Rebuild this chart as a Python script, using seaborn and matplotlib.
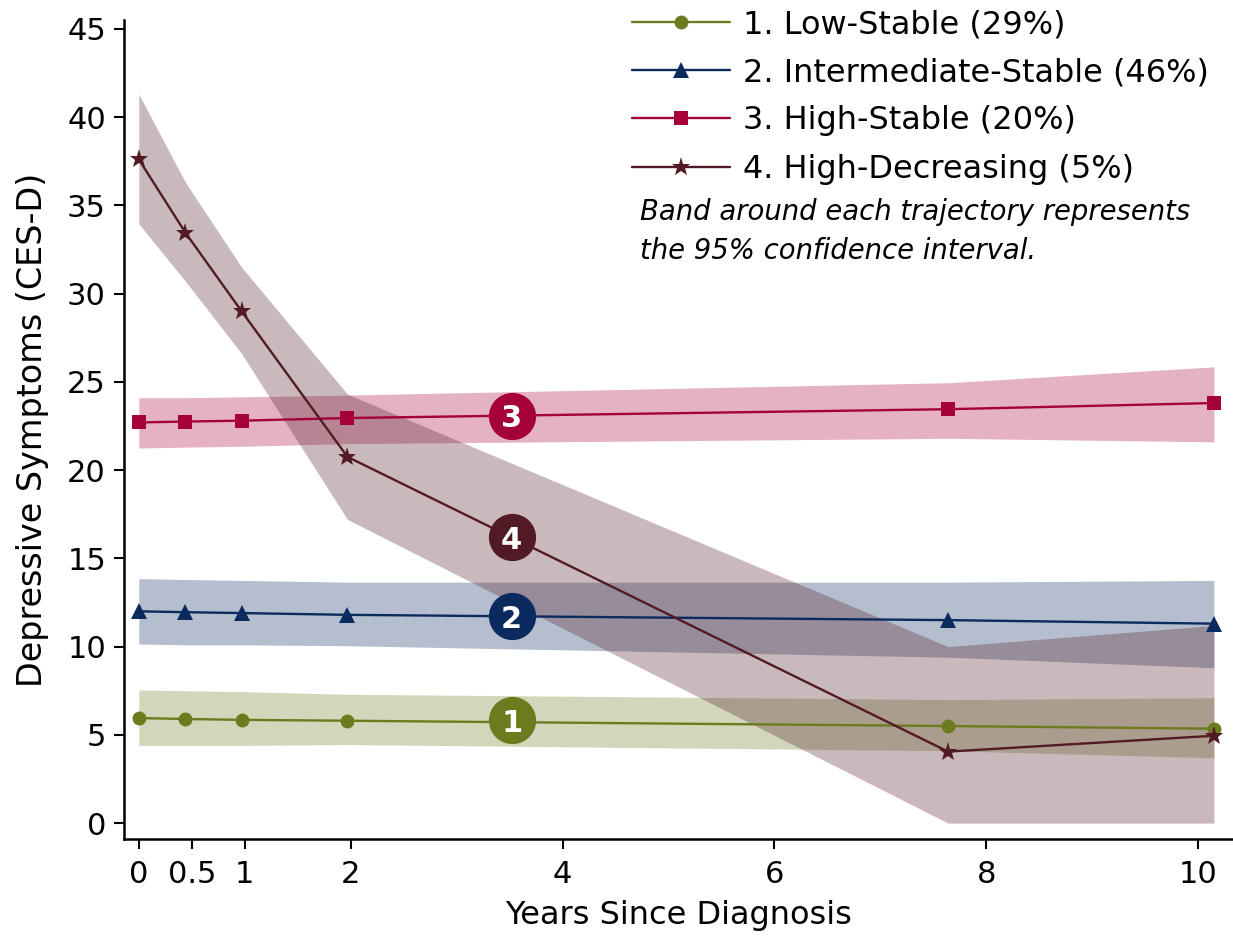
import matplotlib
matplotlib.use("Agg")
import matplotlib.pyplot as plt
import pandas as pd
import seaborn as sns

# --- data ---
years = [0, 0.44, 0.97, 1.97, 7.64, 10.15]

groups = ["1. Low-Stable (29%)", "2. Intermediate-Stable (46%)",
          "3. High-Stable (20%)", "4. High-Decreasing (5%)"]
short_names = ["1", "2", "3", "4"]

low_mean = [5.95, 5.9, 5.85, 5.8, 5.5, 5.35]
low_lo = [4.4, 4.4, 4.4, 4.45, 4.1, 3.7]
low_hi = [7.55, 7.5, 7.45, 7.3, 7.0, 7.1]

mid_mean = [12.0, 11.95, 11.9, 11.8, 11.5, 11.3]
mid_lo = [10.15, 10.1, 10.1, 10.05, 9.4, 8.8]
mid_hi = [13.85, 13.8, 13.75, 13.65, 13.65, 13.75]

high_mean = [22.7, 22.75, 22.8, 22.95, 23.45, 23.8]
high_lo = [21.25, 21.3, 21.35, 21.5, 21.8, 21.6]
high_hi = [24.1, 24.1, 24.15, 24.25, 24.95, 25.85]

dec_mean = [37.6, 33.45, 29.0, 20.75, 4.05, 4.95]
dec_lo = [33.95, 30.7, 26.6, 17.2, 0.0, 0.0]
dec_hi = [41.3, 36.3, 31.5, 24.3, 10.0, 11.2]

# where the numbered circles sit
label_x = 3.52
label_y = [5.84, 11.73, 23.07, 16.2]

x_ticks = [0, 0.5, 1, 2, 4, 6, 8, 10]
x_ticklabels = ["0", "0.5", "1", "2", "4", "6", "8", "10"]
y_ticks = [0, 5, 10, 15, 20, 25, 30, 35, 40, 45]

colors = ["#6b7b1e", "#0b2a5e", "#a6003a", "#521a24"]
markers = ["o", "^", "s", "*"]
marker_sizes = [10, 11.5, 10, 14]

means = [low_mean, mid_mean, high_mean, dec_mean]
lows = [low_lo, mid_lo, high_lo, dec_lo]
highs = [low_hi, mid_hi, high_hi, dec_hi]

sns.set_style("ticks")
plt.rcParams["font.family"] = ["DejaVu Sans"]
# plain black text and axes, like the original figure
plt.rcParams.update({
    "text.color": "black",
    "axes.labelcolor": "black",
    "axes.edgecolor": "black",
    "xtick.color": "black",
    "ytick.color": "black",
})

fig = plt.figure(figsize=(12.33, 9.38), dpi=100)
ax = fig.add_axes([124 / 1233, 99 / 938, 1109 / 1233, 819 / 938])

# confidence bands
for lo, hi, c in zip(lows, highs, colors):
    ax.fill_between(years, lo, hi, color=c, alpha=0.3, linewidth=0, zorder=1)

# trajectories
for name, m, c, mk, ms in zip(groups, means, colors, markers, marker_sizes):
    df = pd.DataFrame({"year": years, "ces_d": m})
    sns.lineplot(data=df, x="year", y="ces_d", ax=ax, color=c, marker=mk,
                 markersize=ms, markeredgewidth=0, linewidth=1.7,
                 label=name, zorder=3)

# numbered circle labels
for num, yv, c in zip(short_names, label_y, colors):
    ax.plot([label_x], [yv], marker="o", markersize=34, color=c,
            markeredgewidth=0, zorder=5)
    ax.text(label_x, yv, num, color="white", fontsize=22, fontweight="bold",
            ha="center", va="center_baseline", zorder=6)

ax.set_xlim(-0.14, 10.33)
ax.set_ylim(-0.9, 45.5)
ax.set_xticks(x_ticks)
ax.set_xticklabels(x_ticklabels)
ax.set_yticks(y_ticks)
ax.tick_params(axis="both", labelsize=22, length=7, width=1.5)
ax.tick_params(axis="x", pad=8)
ax.tick_params(axis="y", pad=6)
ax.set_xlabel("Years Since Diagnosis", fontsize=23, labelpad=8)
ax.set_ylabel("Depressive Symptoms (CES-D)", fontsize=24, labelpad=13)
for side in ["top", "right"]:
    ax.spines[side].set_visible(False)
for side in ["left", "bottom"]:
    ax.spines[side].set_linewidth(1.8)

ax.legend(loc="upper left", bbox_to_anchor=(632 / 1233, 1 - 9 / 938),
          bbox_transform=fig.transFigure, frameon=False, fontsize=23,
          handlelength=3.06, handletextpad=0.4, labelspacing=0.54,
          borderpad=0, borderaxespad=0)

fig.text(640 / 1233, 1 - 198 / 938,
         "Band around each trajectory represents\nthe 95% confidence interval.",
         fontsize=19.8, style="italic", va="top", ha="left", linespacing=1.5)

fig.savefig("out.png", dpi=100)
plt.close(fig)
